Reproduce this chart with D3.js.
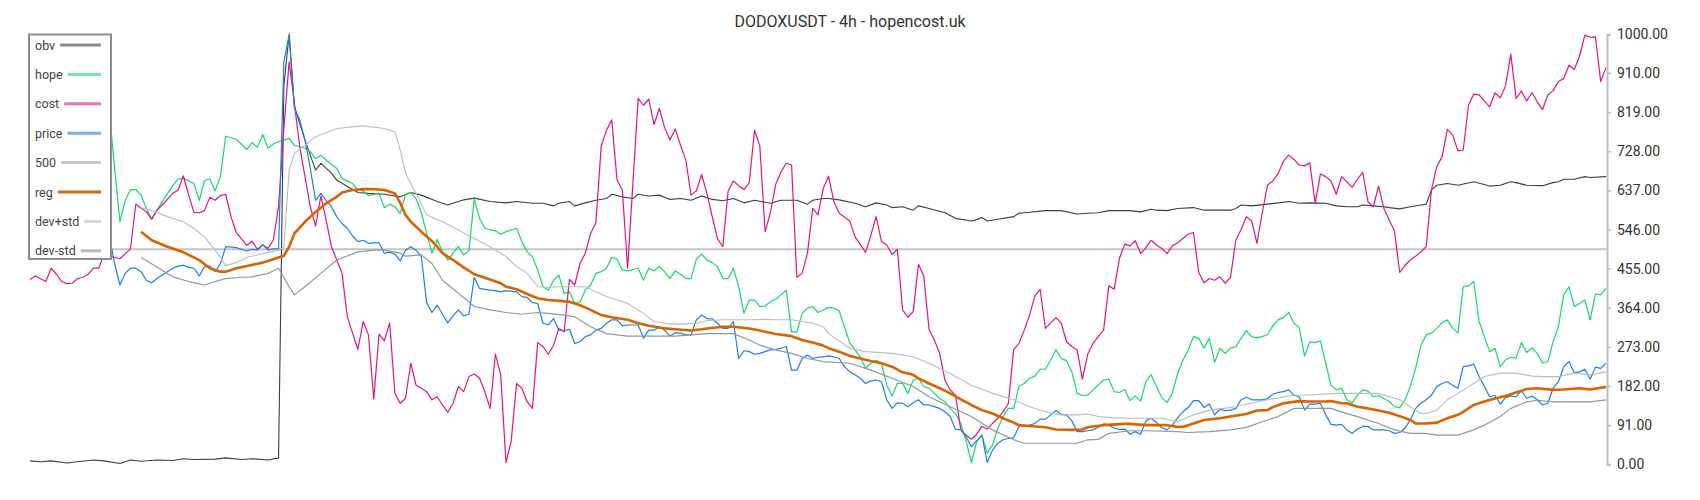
<!DOCTYPE html>
<html>
<head>
<meta charset="utf-8">
<script src="https://cdnjs.cloudflare.com/ajax/libs/d3/7.8.5/d3.min.js"></script>
<style>
body { margin:0; background:#fff; }
svg { font-family: Roboto, "DejaVu Sans", sans-serif; }
</style>
</head>
<body>
<svg id="chart" width="1700" height="500"></svg>
<script>
// bar index (4h candles, 0..298) and value
var title = "DODOXUSDT - 4h - hopencost.uk"
var yTicks = [0,91,182,273,364,455,546,637,728,819,910,1000]
var legendNames = ["obv","hope","cost","price","500","reg","dev+std","dev-std"]
var level = 500
var lastBar = 298

var obv = [[0,8],[2,6],[4,8],[7,3],[9,6],[12,10],[14,8],[17,2],[19,10],[21,7],[24,10],[27,9],[29,13],[31,11],[35,12],[37,15],[40,11],[42,13],[45,10],[47,15],[48,880],[49,1000],[50,832],[52,754],[54,684],[55,700],[57,677],[58,661],[60,646],[62,632],[64,630],[67,628],[70,622],[72,632],[74,626],[77,611],[79,603],[82,615],[84,619],[87,611],[90,608],[92,611],[95,607],[97,607],[99,601],[100,607],[102,611],[103,601],[105,608],[107,614],[109,618],[110,628],[112,622],[114,618],[115,628],[117,624],[119,626],[121,616],[123,618],[125,614],[127,624],[129,616],[131,613],[133,618],[135,608],[137,614],[140,607],[142,614],[145,614],[147,605],[148,614],[150,618],[151,618],[153,615],[156,607],[158,599],[160,608],[162,603],[163,597],[165,599],[167,591],[168,601],[170,595],[173,585],[175,572],[178,566],[179,569],[180,574],[181,566],[183,570],[186,576],[187,584],[189,586],[192,590],[195,590],[198,582],[200,584],[202,585],[204,590],[206,590],[208,590],[210,587],[212,593],[213,591],[215,590],[217,595],[220,597],[222,591],[224,591],[227,591],[228,595],[229,603],[231,601],[234,605],[236,608],[238,611],[240,607],[242,608],[245,607],[247,601],[249,599],[251,599],[252,603],[254,601],[256,599],[257,597],[259,594],[261,599],[263,603],[264,605],[265,638],[266,649],[268,653],[270,649],[273,657],[276,647],[278,649],[280,657],[281,655],[283,649],[286,648],[288,655],[289,657],[290,663],[292,663],[294,669],[295,667],[298,669]]

var hope = [[10,820],[13,830],[15,816],[17,564],[18,614],[19,639],[20,639],[21,626],[22,595],[23,570],[25,611],[27,648],[28,663],[29,665],[31,653],[32,614],[33,660],[34,664],[35,636],[36,669],[37,763],[39,756],[41,732],[42,748],[43,737],[44,767],[45,735],[46,745],[47,750],[49,758],[50,742],[52,735],[53,727],[54,711],[55,719],[56,707],[58,688],[59,665],[61,653],[62,638],[63,636],[64,625],[66,630],[67,597],[68,605],[69,599],[70,583],[71,628],[72,632],[73,618],[74,585],[75,537],[76,491],[77,523],[78,494],[79,475],[80,491],[81,506],[82,487],[83,497],[84,618],[85,572],[86,549],[87,545],[88,543],[89,535],[90,541],[92,549],[93,518],[94,494],[95,483],[96,452],[97,413],[98,405],[99,428],[100,440],[101,397],[102,401],[103,374],[104,378],[105,405],[106,417],[107,444],[108,448],[109,456],[110,481],[111,477],[112,452],[113,450],[114,453],[115,456],[116,428],[117,456],[118,450],[119,460],[120,448],[121,432],[122,450],[123,442],[124,432],[125,432],[126,477],[127,489],[128,475],[129,469],[130,460],[131,432],[132,432],[133,456],[134,413],[135,351],[136,382],[137,382],[138,367],[139,368],[140,378],[141,384],[142,394],[143,405],[144,308],[145,308],[146,351],[147,363],[148,367],[149,353],[150,359],[151,365],[152,363],[153,357],[154,320],[155,283],[156,266],[157,250],[158,223],[159,235],[160,242],[161,235],[162,184],[163,159],[164,188],[165,188],[166,165],[167,196],[168,200],[169,181],[170,177],[171,165],[172,153],[173,146],[174,130],[175,118],[176,95],[177,55],[178,4],[179,53],[180,68],[181,26],[182,45],[183,84],[184,111],[185,130],[186,130],[187,181],[188,188],[189,200],[190,205],[191,221],[192,221],[193,242],[194,267],[195,246],[196,241],[197,215],[198,165],[199,160],[200,161],[201,173],[202,184],[203,196],[204,198],[205,169],[206,167],[207,174],[208,148],[209,159],[210,147],[211,192],[212,208],[213,181],[214,155],[215,144],[216,165],[217,211],[218,242],[219,266],[220,297],[221,293],[222,270],[223,293],[224,237],[225,270],[226,258],[227,270],[228,273],[229,293],[230,311],[231,297],[232,294],[233,297],[234,302],[235,322],[236,336],[237,341],[238,353],[239,328],[240,318],[241,252],[242,285],[243,283],[244,287],[245,235],[246,184],[247,173],[248,177],[249,150],[250,143],[251,161],[252,173],[253,170],[254,157],[255,160],[256,153],[257,146],[258,134],[259,132],[260,150],[261,181],[262,223],[263,277],[264,301],[265,305],[266,316],[267,329],[268,336],[269,316],[270,305],[271,413],[272,415],[273,425],[274,332],[275,297],[276,262],[277,270],[278,227],[279,243],[280,249],[281,247],[282,283],[283,260],[284,271],[285,258],[286,235],[287,239],[288,285],[289,320],[290,394],[291,413],[292,367],[293,374],[294,382],[295,336],[296,396],[297,394],[298,409]]

var cost = [[0,430],[1,438],[3,425],[4,456],[5,442],[6,425],[7,420],[8,421],[9,432],[10,435],[11,442],[12,456],[13,456],[14,490],[15,484],[17,478],[19,501],[20,605],[22,587],[23,570],[24,591],[25,603],[27,630],[28,638],[29,671],[30,626],[31,586],[32,585],[33,590],[34,621],[35,614],[36,625],[37,628],[38,576],[39,539],[41,509],[42,519],[43,500],[44,510],[45,502],[46,521],[47,600],[48,780],[49,936],[50,839],[51,739],[52,669],[53,599],[54,554],[55,624],[56,568],[57,506],[58,475],[59,444],[60,343],[61,305],[62,267],[63,332],[64,301],[65,152],[66,303],[67,287],[68,329],[69,165],[70,142],[71,153],[72,235],[73,184],[74,177],[75,169],[76,150],[77,157],[78,138],[79,121],[80,142],[81,181],[82,169],[83,204],[84,210],[85,200],[86,169],[87,130],[88,256],[89,208],[90,4],[91,55],[92,188],[93,177],[94,146],[95,130],[96,283],[97,274],[98,256],[99,277],[100,316],[101,308],[102,430],[103,417],[104,467],[105,491],[106,537],[107,562],[108,739],[109,777],[110,801],[111,661],[112,638],[113,456],[115,851],[116,835],[117,849],[118,790],[119,828],[120,783],[121,754],[122,780],[123,742],[124,708],[125,626],[126,636],[127,674],[128,630],[129,576],[130,525],[131,506],[132,635],[133,659],[134,648],[135,639],[136,655],[137,777],[138,740],[139,541],[140,585],[141,651],[142,680],[143,700],[144,696],[145,435],[146,444],[147,490],[148,595],[149,580],[150,642],[151,670],[152,611],[153,584],[155,566],[156,529],[158,493],[159,533],[160,576],[161,518],[162,510],[163,488],[164,500],[165,359],[166,342],[167,355],[168,465],[169,438],[170,314],[171,289],[172,258],[173,196],[174,173],[175,161],[176,80],[177,68],[178,58],[179,70],[180,88],[181,82],[182,95],[183,107],[184,122],[185,142],[186,267],[187,281],[188,312],[189,347],[190,391],[191,407],[192,316],[193,329],[194,341],[195,328],[196,285],[197,274],[198,266],[199,198],[200,256],[201,281],[202,297],[203,312],[204,415],[205,407],[206,479],[207,512],[208,508],[209,520],[210,490],[211,504],[212,521],[213,510],[214,502],[215,490],[216,508],[217,515],[218,525],[219,535],[220,539],[221,446],[222,422],[223,432],[224,428],[225,436],[226,421],[227,435],[228,521],[229,546],[230,576],[231,566],[232,514],[233,585],[234,649],[235,659],[236,676],[237,705],[238,719],[239,709],[240,696],[241,694],[242,701],[243,607],[244,675],[245,669],[246,659],[247,628],[248,669],[249,657],[250,644],[251,663],[252,679],[253,610],[254,599],[255,647],[256,595],[257,568],[258,543],[259,446],[260,463],[261,475],[262,484],[263,494],[264,506],[265,638],[266,692],[267,715],[268,779],[269,766],[270,729],[271,731],[272,835],[273,861],[274,859],[275,845],[276,831],[277,864],[278,852],[279,880],[280,954],[281,851],[282,868],[283,845],[284,864],[285,843],[286,825],[287,859],[288,869],[289,890],[290,897],[291,928],[292,918],[293,949],[294,998],[295,993],[296,994],[297,890],[298,923]]

var price = [[10,505],[13,510],[15,530],[16,467],[17,417],[18,444],[19,456],[20,456],[21,448],[22,428],[23,422],[24,432],[25,440],[26,448],[27,456],[28,461],[29,463],[30,458],[31,456],[32,438],[33,460],[34,461],[35,448],[36,467],[37,506],[39,504],[41,496],[42,500],[43,498],[44,511],[45,498],[46,501],[47,501],[48,936],[49,998],[50,828],[51,801],[52,754],[53,688],[54,614],[55,630],[56,614],[57,599],[58,576],[59,560],[60,549],[61,531],[62,518],[63,521],[64,514],[65,515],[66,515],[67,491],[68,493],[69,489],[70,473],[71,498],[72,506],[73,498],[74,483],[75,376],[76,353],[77,370],[78,349],[79,329],[80,345],[81,359],[82,345],[83,349],[84,435],[85,409],[86,407],[87,405],[88,404],[89,401],[90,404],[92,401],[93,390],[94,388],[95,376],[96,374],[97,328],[98,324],[99,339],[100,312],[101,311],[102,314],[103,281],[104,285],[105,297],[106,301],[107,312],[108,316],[109,328],[110,336],[111,336],[112,322],[113,324],[114,324],[115,324],[116,293],[117,312],[118,312],[119,320],[120,312],[121,298],[122,306],[123,305],[124,301],[125,301],[126,336],[127,347],[128,339],[129,338],[130,328],[131,316],[132,316],[133,332],[134,246],[135,264],[136,262],[137,256],[138,258],[139,262],[140,266],[141,267],[142,270],[143,274],[144,219],[145,219],[146,246],[147,254],[148,246],[149,249],[150,250],[151,252],[152,250],[153,246],[154,227],[155,215],[156,208],[157,200],[158,188],[159,194],[160,196],[161,192],[162,150],[163,130],[164,143],[165,142],[166,134],[167,143],[168,150],[169,138],[170,138],[171,134],[172,130],[173,122],[174,111],[175,81],[176,80],[177,64],[178,41],[179,55],[180,68],[181,4],[182,33],[183,49],[184,57],[185,60],[186,62],[187,88],[188,89],[189,91],[190,95],[191,105],[192,105],[193,115],[194,125],[195,116],[196,115],[197,101],[198,76],[199,76],[200,78],[201,80],[202,86],[203,94],[204,91],[205,84],[206,81],[207,82],[208,70],[209,76],[210,70],[211,101],[212,107],[213,97],[214,85],[215,80],[216,91],[217,108],[218,122],[219,132],[220,148],[221,148],[222,132],[223,140],[224,115],[225,128],[226,125],[227,126],[228,130],[229,150],[230,156],[231,150],[232,150],[233,150],[234,153],[235,163],[236,167],[237,169],[238,173],[239,161],[240,157],[241,126],[242,140],[243,140],[244,142],[245,115],[246,93],[247,91],[248,93],[249,80],[250,72],[251,82],[252,88],[253,88],[254,80],[255,80],[256,80],[257,78],[258,72],[259,74],[260,84],[261,103],[262,130],[263,142],[264,150],[265,161],[266,181],[267,188],[268,192],[269,184],[270,177],[271,227],[272,229],[273,233],[274,204],[275,181],[276,157],[277,160],[278,140],[279,155],[280,159],[281,157],[282,171],[283,153],[284,159],[285,150],[286,138],[287,142],[288,177],[289,192],[290,227],[291,239],[292,213],[293,215],[294,221],[295,198],[296,226],[297,223],[298,235]]

var reg = [[21,541],[23,521],[26,506],[29,493],[32,475],[34,456],[36,448],[37,448],[39,456],[41,461],[44,469],[46,477],[47,481],[48,485],[49,506],[50,537],[52,564],[54,587],[56,607],[58,622],[59,632],[61,638],[63,640],[65,640],[67,638],[69,630],[70,608],[71,580],[72,564],[74,541],[76,519],[77,506],[78,491],[80,475],[82,458],[84,442],[86,434],[89,421],[90,413],[92,407],[94,396],[96,386],[98,382],[100,380],[102,378],[104,370],[106,359],[108,347],[110,342],[113,336],[115,328],[117,322],[120,316],[122,314],[125,311],[127,314],[128,316],[131,320],[133,320],[136,316],[138,311],[141,303],[144,298],[146,289],[148,283],[150,276],[151,270],[153,262],[155,252],[157,246],[159,240],[161,235],[163,227],[165,214],[167,208],[168,200],[170,188],[172,177],[174,165],[176,151],[178,138],[180,126],[182,118],[184,107],[186,97],[187,91],[189,89],[192,86],[194,81],[197,80],[199,81],[200,86],[201,88],[203,91],[207,94],[208,94],[211,91],[213,91],[215,91],[217,87],[218,87],[220,95],[222,103],[225,107],[227,111],[230,117],[232,125],[234,126],[235,133],[237,142],[240,147],[242,146],[245,146],[246,147],[248,142],[249,142],[251,134],[253,130],[255,125],[257,120],[259,112],[261,103],[262,95],[264,95],[266,97],[268,107],[270,115],[271,122],[273,138],[275,146],[277,153],[279,159],[281,167],[283,175],[285,177],[288,173],[290,174],[293,177],[295,174],[298,180]]

var devPlus = [[21,597],[23,590],[26,576],[29,564],[31,549],[33,529],[35,498],[37,462],[39,469],[41,481],[44,490],[47,498],[48,505],[49,684],[50,723],[52,742],[54,762],[58,781],[63,787],[67,781],[69,773],[70,731],[71,677],[73,630],[75,580],[78,564],[81,545],[84,525],[87,506],[90,483],[92,460],[94,444],[96,413],[98,411],[100,413],[102,413],[105,413],[107,401],[109,390],[113,374],[116,351],[118,332],[121,326],[123,326],[126,328],[128,334],[131,336],[133,336],[136,336],[139,337],[141,336],[144,336],[146,332],[148,328],[150,320],[151,304],[155,270],[158,262],[163,258],[167,250],[170,235],[174,211],[178,184],[182,165],[186,150],[189,134],[192,122],[195,115],[198,115],[200,117],[202,111],[205,108],[208,107],[211,107],[214,107],[217,99],[220,115],[223,126],[228,134],[234,150],[239,161],[242,161],[247,165],[251,165],[255,165],[259,150],[261,134],[263,118],[264,118],[266,126],[268,150],[270,165],[273,188],[275,204],[278,212],[281,212],[284,205],[286,204],[289,204],[292,212],[295,208],[298,215]]

var devMinus = [[21,481],[24,459],[27,436],[30,425],[33,417],[35,425],[37,432],[40,435],[42,436],[45,444],[47,456],[49,413],[50,394],[52,413],[55,444],[58,475],[62,494],[65,498],[67,498],[70,491],[71,484],[74,487],[76,467],[78,428],[81,398],[84,367],[87,359],[90,353],[93,349],[96,353],[98,351],[101,347],[103,343],[106,320],[109,304],[113,298],[116,298],[122,298],[125,301],[128,304],[131,304],[133,304],[136,289],[138,277],[141,266],[144,258],[147,246],[150,239],[155,235],[159,219],[163,200],[167,181],[170,157],[174,134],[178,111],[182,80],[186,57],[188,49],[192,49],[196,49],[198,49],[200,57],[202,58],[204,72],[208,78],[211,78],[217,76],[219,74],[223,76],[227,80],[230,86],[233,99],[236,111],[239,130],[242,130],[246,130],[249,118],[251,111],[255,95],[258,80],[261,72],[264,72],[266,68],[270,68],[273,80],[275,91],[278,111],[280,130],[283,145],[285,149],[288,145],[292,145],[295,145],[298,150]]

var svg = d3.select("#chart")

var xScale = d3.scaleLinear()
    .domain([0,lastBar])
    .range([30,1606])
var yScale = d3.scaleLinear()
    .domain([0,1000])
    .range([464.3,34.3])

var line = d3.line()
    .x(function(d){ return xScale(d[0]) })
    .y(function(d){ return yScale(d[1]) })

//title
svg.append("text")
    .text(title)
    .attr("x",850)
    .attr("y",27)
    .attr("text-anchor","middle")
    .attr("font-size","16px")
    .attr("fill","#333")

//500 level
svg.append("line")
    .attr("x1",xScale(0))
    .attr("x2",xScale(lastBar))
    .attr("y1",yScale(level))
    .attr("y2",yScale(level))
    .attr("stroke","#c4c4c4")
    .attr("stroke-width",2)

//series, drawn in legend order
var series = [
    {data:obv, color:"#3d3d3d", w:1.1},
    {data:hope, color:"#17d86a", w:1.2},
    {data:cost, color:"#e5157f", w:1.2},
    {data:price, color:"#1e80e0", w:1.2},
    {data:reg, color:"#d96300", w:2.6},
    {data:devPlus, color:"#b7bdc2", w:1.1},
    {data:devMinus, color:"#8d98a1", w:1.2}
]

svg.append("g").attr("id","lines")
    .selectAll("path")
    .data(series)
    .enter()
    .append("path")
    .attr("d", function(s){ return line(s.data) })
    .attr("fill","none")
    .attr("stroke", function(s){ return s.color })
    .attr("stroke-width", function(s){ return s.w })
    .attr("stroke-linejoin","round")

//right axis
var yAxis = d3.axisRight(yScale)
    .tickValues(yTicks)
    .tickFormat(d3.format(".2f"))
    .tickSize(4)
    .tickPadding(6)

var axis = svg.append("g")
    .attr("id","yAxis")
    .attr("transform","translate(1607,0)")
    .call(yAxis)
axis.select(".domain")
    .attr("stroke","#b5bfc6")
    .attr("stroke-width",2)
axis.selectAll(".tick line")
    .attr("stroke","#b5bfc6")
    .attr("stroke-width",1.5)
axis.selectAll(".tick text")
    .attr("font-family","Roboto, sans-serif")
    .attr("font-size","14px")
    .attr("fill","#333")

//legend
var legendColors = ["#8a8a8a","#74e6a6","#ee72b3","#74b2ec","#c8c8c8","#d2670c","#d2d7db","#b3bbc0"]
var legendWidths = [3,3,3,3,3,3,3,3]

var legend = svg.append("g").attr("id","legend")
legend.append("rect")
    .attr("x",29)
    .attr("y",34.5)
    .attr("width",82)
    .attr("height",224.5)
    .attr("fill","#fff")
    .attr("stroke","#8c8c8c")
    .attr("stroke-width",2)

var rows = legend.selectAll("g.row")
    .data(legendNames)
    .enter()
    .append("g")
    .attr("class","row")
    .attr("transform", function(d,i){ return "translate(0,"+(45+i*29.4)+")" })

rows.append("text")
    .text(function(d){ return d })
    .attr("x",35)
    .attr("y",4.5)
    .attr("font-size","12.5px")
    .attr("fill","#444")

rows.append("line")
    .attr("x1", function(d){ return 35 + this.parentNode.querySelector("text").getComputedTextLength() + 5 })
    .attr("x2",101)
    .attr("y1",0)
    .attr("y2",0)
    .attr("stroke", function(d,i){ return legendColors[i] })
    .attr("stroke-width", function(d,i){ return legendWidths[i] })
</script>
</body>
</html>
